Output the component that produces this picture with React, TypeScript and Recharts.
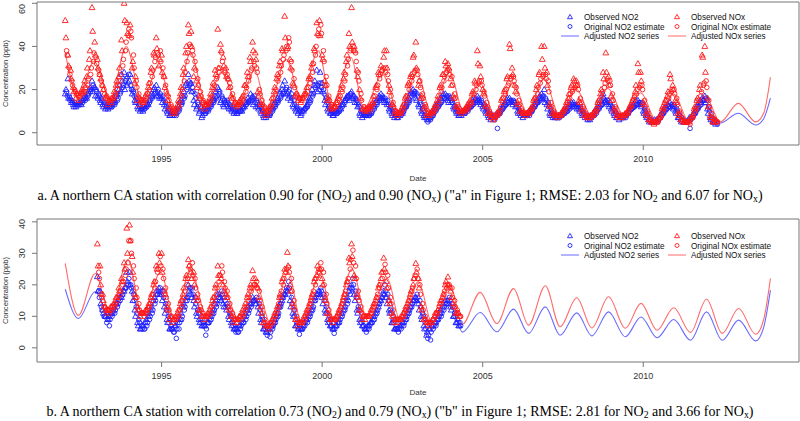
import React from 'react';
import { ComposedChart, Scatter, Line, XAxis, YAxis, ReferenceArea, Legend } from 'recharts';

// ---------- shared ----------
const X_DOMAIN: [number, number] = [1991.12, 2014.85];
const X_TICKS = [1995, 2000, 2005, 2010];
const A_Y_TICKS = [0, 10, 20, 30, 40, 50, 60];
const B_Y_TICKS = [0, 10, 20, 30, 40];
const A_Y_DOMAIN: [number, number] = [-5.7, 60.6];
const B_Y_DOMAIN: [number, number] = [-4.5, 40.9];

const BLUE = '#2020ff';
const RED = '#ff1a1a';
const BLUE_LINE = '#6a6aff';
const RED_LINE = '#ff6a6a';

// ---------- panel a: monthly samples starting Jan 1992 ----------
const A_START = 1992;
const A_NOX_EST = [
  38, 30, 24, 20, 18, 17, 18, 19, 22, 27, 33, 35,
  29, 24, 20, 17, 15, 15, 17, 20, 24, 31, 38, 45,
  47, 36, 24, 18, 15, 14, 16, 20, 26, 33, 37, 38,
  30, 22, 17, 13, 11, 10, 12, 17, 24, 33, 41, 38,
  33, 25, 19, 15, 13, 13, 15, 20, 25, 28, 37, 29,
  27, 23, 18, 14, 13, 13, 15, 19, 24, 29, 33, 30,
  20, 15, 12, 10, 11, 14, 18, 24, 28, 34, 38, 44,
  33, 25, 18, 16, 16, 17, 19, 23, 28, 36, 45, 50,
  38, 26, 17, 13, 12, 13, 15, 19, 24, 31, 38, 40,
  37, 28, 18, 12, 11, 11, 12, 15, 20, 25, 29, 30,
  27, 20, 14, 10, 9, 9, 11, 15, 20, 24, 28, 29,
  24, 18, 13, 10, 9, 9, 11, 14, 19, 24, 28, 29,
  26, 18, 13, 11, 10, 10, 11, 13, 16, 20, 23, 24,
  19, 14, 10, 8, 7, 8, 10, 14, 18, 22, 25, 26,
  21, 15, 11, 9, 9, 9, 11, 14, 18, 23, 26, 27,
  24, 14, 10, 8, 8, 8, 10, 13, 16, 19, 21, 22,
  16, 12, 9, 8, 7, 8, 10, 13, 17, 21, 25, 24,
  18, 12, 9, 8, 8, 8, 10, 12, 15, 18, 21, 22,
  15, 10, 7, 5, 5, 5, 7, 10, 13, 16, 19, 20,
  16, 10, 7, 5, 5, 4, 7, 10, 13, 17, 22, 24,
  15, 9, 6, 5,
];
const A_NOX_EST2 = [
  36, 27, 22, 19, 17, 18, 19, 21, 25, 30, 37, 32,
  27, 22, 18, 16, 15, 16, 18, 22, 27, 34, 42, 48,
  44, 30, 21, 16, 14, 15, 18, 23, 29, 35, 36, 33,
  26, 19, 15, 12, 10, 11, 14, 20, 28, 37, 40, 36,
  29, 22, 17, 14, 13, 14, 17, 22, 26, 30, 33, 28,
  25, 21, 16, 14, 13, 14, 17, 21, 26, 30, 31, 28,
  18, 13, 11, 10, 12, 16, 20, 26, 31, 36, 40, 42,
  29, 21, 17, 16, 16, 18, 21, 25, 32, 40, 48, 46,
  33, 22, 15, 13, 12, 14, 17, 21, 27, 34, 39, 38,
  33, 24, 15, 12, 11, 12, 13, 17, 22, 27, 30, 28,
  24, 17, 12, 10, 9, 10, 13, 17, 22, 26, 29, 27,
  21, 16, 12, 9, 9, 10, 12, 16, 21, 26, 29, 27,
  22, 16, 12, 10, 10, 11, 12, 14, 18, 22, 24, 22,
  17, 12, 9, 8, 7, 9, 12, 16, 20, 23, 26, 24,
  18, 13, 10, 9, 9, 10, 12, 16, 21, 25, 27, 25,
  19, 12, 9, 8, 8, 9, 11, 14, 18, 20, 22, 20,
  14, 11, 8, 7, 8, 9, 11, 15, 19, 23, 24, 22,
  15, 11, 8, 8, 8, 9, 11, 13, 17, 20, 22, 20,
  12, 9, 6, 5, 5, 6, 8, 11, 15, 18, 20, 18,
  13, 9, 6, 5, 5, 6, 8, 11, 15, 19, 23, 21,
  12, 7, 6, 5,
];
const A_NOX_OBS = [
  52, 36, 29, 21, 16, 15, 19, 22, 26, 34, 58, 42,
  34, 27, 22, 16, 13, 14, 16, 22, 26, 43, 60, 51,
  45, 30, 23, 15, 13, 15, 17, 21, 28, 37, 44, 31,
  36, 26, 18, 12, 9, 9, 13, 18, 27, 37, 50, 47,
  26, 24, 17, 12, 11, 13, 16, 21, 29, 48, 41, 35,
  30, 25, 17, 13, 12, 14, 16, 22, 28, 35, 42, 37,
  19, 14, 10, 8, 10, 13, 19, 25, 31, 39, 54, 39,
  34, 23, 17, 15, 14, 16, 18, 25, 30, 39, 51, 52,
  36, 24, 15, 11, 11, 12, 16, 20, 25, 33, 46, 58,
  40, 29, 20, 11, 10, 10, 11, 14, 21, 28, 31, 35,
  38, 22, 13, 9, 8, 9, 12, 16, 22, 26, 35, 42,
  22, 16, 11, 8, 8, 10, 12, 15, 21, 27, 33, 32,
  25, 17, 12, 10, 9, 10, 12, 14, 18, 24, 38, 31,
  20, 13, 9, 7, 6, 8, 9, 15, 19, 25, 41, 30,
  22, 14, 10, 9, 8, 9, 11, 15, 20, 27, 40, 40,
  28, 13, 9, 8, 7, 8, 10, 12, 16, 21, 25, 24,
  15, 11, 8, 7, 7, 8, 10, 14, 18, 28, 37, 26,
  17, 11, 8, 7, 7, 8, 9, 12, 15, 19, 32, 28,
  14, 9, 6, 5, 4, 5, 7, 11, 14, 17, 27, 22,
  15, 9, 6, 5, 5, 5, 7, 11, 15, 20, 36, 40,
  16, 8, 5, 6,
];
const A_NOX_OBS2 = [
  44, 31, 25, 19, 18, 17, 20, 24, 30, 38, 47, 36,
  30, 25, 20, 17, 15, 16, 19, 24, 30, 38, 52, 46,
  50, 33, 26, 17, 15, 14, 18, 23, 30, 36, 39, 34,
  28, 21, 15, 11, 10, 11, 15, 21, 30, 40, 46, 40,
  30, 21, 16, 14, 13, 14, 18, 23, 27, 30, 38, 31,
  26, 21, 16, 14, 13, 15, 17, 22, 26, 33, 38, 34,
  17, 13, 10, 9, 12, 16, 21, 27, 33, 38, 44, 40,
  30, 22, 18, 16, 15, 18, 21, 26, 32, 38, 46, 45,
  34, 22, 16, 12, 12, 14, 17, 22, 28, 36, 40, 42,
  38, 26, 16, 11, 11, 12, 13, 17, 22, 27, 29, 38,
  30, 19, 13, 10, 9, 10, 13, 17, 23, 27, 36, 30,
  24, 17, 12, 9, 9, 10, 13, 17, 22, 27, 31, 30,
  22, 16, 12, 10, 10, 11, 13, 15, 19, 23, 32, 26,
  18, 12, 9, 8, 7, 9, 11, 16, 20, 26, 39, 27,
  19, 13, 10, 9, 9, 10, 12, 16, 22, 28, 34, 30,
  22, 12, 9, 8, 8, 9, 11, 14, 18, 22, 24, 22,
  14, 10, 8, 7, 8, 9, 11, 15, 20, 25, 28, 22,
  15, 10, 8, 7, 8, 9, 10, 13, 16, 22, 28, 24,
  13, 8, 6, 5, 5, 6, 8, 12, 15, 19, 25, 20,
  14, 8, 6, 5, 5, 6, 8, 12, 16, 22, 35, 28,
  12, 7, 5, 5,
];
const A_NO2_EST = [
  19, 17, 15, 14, 13, 13, 14, 15, 17, 19, 22, 20,
  18, 16, 14, 13, 12, 12, 13, 15, 18, 21, 24, 23,
  22, 19, 16, 13, 11, 11, 12, 14, 16, 18, 19, 18,
  17, 14, 11, 9, 9, 8, 10, 13, 16, 20, 22, 21,
  18, 14, 12, 10, 9, 10, 12, 14, 16, 18, 17, 15,
  15, 13, 12, 11, 10, 10, 11, 13, 14, 15, 16, 15,
  13, 11, 9, 8, 8, 10, 12, 14, 16, 18, 20, 19,
  18, 15, 12, 11, 10, 11, 12, 14, 17, 21, 22, 23,
  20, 16, 12, 10, 9, 9, 10, 12, 14, 16, 18, 17,
  16, 13, 10, 9, 8, 8, 9, 11, 13, 15, 17, 16,
  15, 12, 10, 8, 8, 8, 10, 12, 14, 17, 19, 18,
  14, 11, 8, 5, 6, 8, 10, 12, 14, 16, 17, 17,
  15, 12, 10, 9, 9, 9, 10, 12, 13, 14, 16, 15,
  13, 11, 9, 7, 6, 2, 9, 11, 13, 14, 15, 15,
  13, 11, 9, 8, 8, 8, 10, 12, 14, 15, 17, 16,
  14, 10, 8, 7, 7, 8, 9, 10, 11, 12, 13, 13,
  12, 10, 8, 7, 7, 8, 9, 11, 13, 14, 15, 14,
  12, 10, 8, 7, 7, 7, 9, 11, 12, 13, 14, 14,
  11, 8, 6, 5, 5, 5, 7, 9, 11, 12, 13, 13,
  11, 8, 6, 5, 5, 2, 7, 9, 11, 13, 15, 16,
  12, 7, 5, 5,
];
const A_NO2_EST2 = [
  17, 15, 14, 13, 13, 14, 15, 16, 18, 20, 21, 19,
  17, 15, 13, 12, 12, 13, 14, 16, 19, 22, 25, 27,
  20, 17, 14, 12, 11, 11, 13, 15, 17, 19, 20, 17,
  15, 12, 10, 9, 8, 9, 11, 14, 17, 21, 23, 19,
  16, 13, 11, 10, 10, 11, 13, 15, 17, 19, 16, 14,
  14, 12, 11, 10, 10, 10, 12, 13, 15, 16, 17, 14,
  12, 10, 8, 8, 9, 11, 13, 15, 17, 19, 21, 20,
  16, 13, 11, 10, 10, 11, 13, 15, 18, 22, 23, 21,
  18, 14, 11, 9, 9, 9, 11, 13, 15, 17, 18, 16,
  15, 12, 9, 8, 8, 8, 10, 12, 14, 16, 16, 15,
  13, 11, 9, 8, 8, 9, 11, 13, 15, 18, 19, 17,
  13, 10, 7, 6, 7, 9, 11, 13, 15, 16, 17, 16,
  14, 11, 9, 9, 9, 10, 11, 12, 14, 15, 15, 14,
  12, 10, 8, 7, 7, 8, 10, 12, 13, 14, 15, 14,
  12, 10, 9, 8, 8, 9, 11, 13, 14, 16, 17, 15,
  12, 9, 8, 7, 7, 8, 9, 10, 12, 13, 13, 12,
  11, 9, 8, 7, 7, 8, 10, 12, 13, 15, 15, 13,
  11, 9, 8, 7, 7, 8, 10, 11, 12, 13, 14, 13,
  10, 7, 6, 5, 5, 6, 8, 10, 11, 12, 13, 12,
  10, 7, 6, 5, 5, 6, 8, 10, 12, 14, 15, 15,
  10, 6, 5, 4,
];
const A_NO2_OBS = [
  18, 25, 16, 13, 12, 13, 13, 16, 16, 20, 24, 21,
  17, 15, 13, 11, 11, 12, 14, 17, 20, 27, 28, 22,
  24, 18, 15, 12, 10, 10, 12, 13, 17, 20, 22, 17,
  16, 13, 10, 8, 8, 9, 11, 14, 17, 22, 27, 23,
  15, 11, 9, 7, 9, 11, 13, 15, 17, 21, 14, 13,
  14, 12, 11, 9, 9, 10, 10, 12, 14, 15, 17, 14,
  12, 10, 8, 7, 8, 11, 13, 15, 18, 20, 24, 18,
  17, 13, 11, 9, 8, 10, 12, 15, 18, 22, 29, 20,
  23, 15, 11, 9, 8, 9, 10, 11, 13, 16, 17, 19,
  17, 14, 9, 7, 8, 8, 9, 12, 14, 16, 18, 15,
  14, 11, 9, 7, 7, 8, 9, 12, 15, 18, 20, 16,
  13, 10, 8, 7, 7, 8, 11, 13, 14, 17, 18, 15,
  16, 12, 10, 8, 8, 9, 11, 12, 14, 15, 17, 14,
  12, 10, 8, 6, 7, 8, 9, 11, 13, 15, 16, 14,
  14, 10, 9, 7, 8, 9, 10, 12, 14, 16, 18, 20,
  13, 9, 8, 7, 7, 8, 9, 10, 12, 13, 14, 12,
  11, 9, 8, 7, 6, 8, 10, 12, 13, 18, 15, 13,
  11, 9, 7, 6, 7, 8, 9, 11, 12, 13, 15, 13,
  10, 8, 6, 5, 5, 6, 7, 9, 11, 13, 14, 12,
  10, 7, 6, 5, 5, 6, 7, 9, 12, 14, 16, 17,
  11, 7, 5, 4,
];
const A_NO2_OBS2 = [
  20, 16, 14, 12, 13, 14, 15, 17, 18, 21, 19, 17,
  16, 14, 12, 12, 13, 13, 15, 18, 22, 24, 20, 26,
  27, 20, 14, 11, 11, 12, 13, 15, 18, 21, 17, 16,
  14, 11, 9, 8, 9, 10, 12, 15, 19, 23, 24, 19,
  13, 12, 10, 8, 10, 12, 14, 16, 19, 20, 15, 12,
  13, 11, 10, 10, 9, 11, 12, 14, 16, 18, 13, 12,
  11, 9, 7, 8, 9, 12, 14, 16, 19, 22, 18, 16,
  15, 12, 10, 10, 9, 11, 13, 16, 20, 24, 19, 28,
  19, 13, 10, 9, 8, 10, 11, 13, 15, 17, 15, 16,
  14, 12, 8, 8, 8, 9, 10, 13, 15, 17, 16, 14,
  13, 10, 8, 8, 7, 9, 10, 13, 16, 19, 18, 15,
  12, 9, 7, 6, 8, 9, 12, 14, 16, 18, 16, 14,
  14, 11, 9, 8, 9, 10, 12, 13, 15, 16, 15, 13,
  11, 9, 7, 7, 8, 9, 10, 12, 14, 16, 14, 13,
  12, 9, 8, 8, 8, 10, 11, 13, 15, 17, 16, 14,
  11, 8, 7, 7, 8, 8, 10, 11, 13, 14, 12, 11,
  10, 8, 7, 6, 7, 9, 11, 13, 15, 16, 14, 12,
  10, 8, 7, 7, 7, 8, 10, 12, 13, 15, 13, 12,
  9, 7, 5, 5, 6, 6, 8, 10, 12, 13, 12, 11,
  9, 7, 5, 5, 5, 7, 8, 10, 13, 15, 15, 14,
  9, 6, 5, 5,
];
// adjusted series knots (peaks / troughs)
const A_LINE_X = [
  1992.0, 1992.4, 1992.9, 1993.4, 1993.9, 1994.4, 1994.9, 1995.4, 1995.9, 1996.4,
  1996.85, 1997.4, 1997.9, 1998.3, 1998.88, 1999.35, 1999.88, 2000.3, 2000.9, 2001.3,
  2001.88, 2002.4, 2002.95, 2003.4, 2003.97, 2004.4, 2004.92, 2005.4, 2005.95, 2006.4,
  2006.9, 2007.4, 2007.9, 2008.4, 2008.9, 2009.4, 2009.92, 2010.43, 2010.95, 2011.43,
  2011.93, 2012.4, 2012.96, 2013.5, 2013.75, 2013.96,
];
const A_LINE_NOX = [
  37, 17, 33, 15, 40, 14, 31, 10, 37, 13,
  28, 13, 29, 10, 34, 16, 38, 13, 35, 11,
  27, 9, 28, 9, 28, 10, 23, 7.5, 23, 9,
  25, 8, 20.5, 7.5, 20.5, 8, 18.5, 5, 18, 5,
  17, 5, 13.6, 5, 9, 25.7,
];
const A_LINE_NO2 = [
  18, 13, 21, 12, 23, 11, 18, 9, 20, 11,
  17, 11, 16, 9, 18, 11, 21, 10, 17, 9,
  16, 8, 18, 8, 16, 9, 14, 7, 14, 8,
  15, 8, 13, 7, 14, 7, 13, 5, 12, 5.5,
  13, 4.5, 9, 3.6, 6.5, 16,
];

// ---------- panel b: monthly samples starting Jan 1993 ----------
const B_START = 1993;
const B_NOX_EST = [
  24, 17, 13, 11, 11, 12, 13, 15, 17, 20, 23, 27,
  34, 26, 19, 14, 11, 10, 11, 13, 15, 19, 24, 29,
  25, 19, 14, 10, 9, 9, 10, 13, 16, 20, 26, 27,
  22, 17, 13, 11, 10, 10, 11, 14, 17, 21, 26, 21,
  18, 14, 11, 9, 9, 9, 10, 12, 15, 18, 20, 21,
  18, 13, 9, 7, 7, 8, 10, 13, 16, 20, 24, 25.6,
  22, 15, 10, 8, 8, 9, 11, 14, 17, 20, 24, 27,
  24, 17, 12, 9, 9, 9, 11, 14, 17, 21, 25, 31,
  26, 18, 13, 10, 10, 10, 11, 13, 16, 19, 22, 26.5,
  23, 16, 12, 9, 9, 9, 10, 12, 15, 18, 22, 25,
  20, 14, 10, 8, 8, 9, 10, 12, 14, 17, 19, 20,
  19, 15, 12, 10,
];
const B_NOX_EST2 = [
  22, 16, 13, 12, 12, 13, 14, 16, 18, 21, 25, 34,
  30, 22, 16, 12, 11, 11, 12, 14, 17, 21, 25, 26,
  22, 16, 12, 10, 9, 10, 12, 15, 18, 22, 25, 23,
  19, 15, 12, 10, 10, 11, 13, 16, 19, 23, 24, 19,
  16, 12, 10, 9, 9, 10, 11, 13, 16, 19, 20, 19,
  15, 11, 8, 7, 8, 9, 11, 14, 18, 22, 25, 24,
  18, 12, 9, 8, 8, 10, 12, 15, 18, 22, 25, 25,
  20, 14, 10, 9, 9, 10, 12, 15, 18, 22, 28, 27,
  22, 15, 11, 10, 10, 10, 12, 14, 17, 20, 24, 24,
  19, 14, 10, 9, 9, 10, 11, 13, 16, 19, 23, 22,
  17, 12, 9, 8, 8, 9, 11, 13, 15, 18, 20, 19,
  16, 13, 11, 10,
];
const B_NOX_OBS = [
  33, 26, 17, 13, 12, 13, 14, 16, 19, 22, 27, 38,
  39, 29, 17, 13, 10, 11, 12, 13, 16, 20, 26, 30,
  30, 18, 13, 9, 8, 9, 11, 14, 17, 22, 28, 24,
  24, 16, 12, 10, 9, 10, 12, 15, 19, 26, 23, 20,
  17, 13, 10, 8, 8, 10, 11, 13, 16, 19, 24.5, 22,
  19, 13, 8, 7, 6, 8, 10, 12, 16, 21, 25, 30.3,
  20, 14, 9, 7, 8, 9, 11, 13, 16, 21, 23, 24,
  22, 16, 11, 9, 8, 9, 11, 13, 16, 20, 28.5, 33,
  23, 17, 12, 9, 9, 10, 11, 13, 15, 19, 22, 28.5,
  21, 15, 11, 8, 8, 9, 10, 12, 14, 17, 20, 26.8,
  22, 13, 9, 8, 7, 8, 10, 11, 14, 16, 20, 22.5,
  18, 14, 11, 11,
];
const B_NOX_OBS2 = [
  26, 20, 15, 12, 12, 13, 14, 16, 18, 21, 25, 30,
  34, 24, 16, 12, 11, 11, 12, 14, 17, 21, 25, 27,
  24, 17, 12, 10, 9, 10, 12, 15, 19, 23, 26, 22,
  20, 15, 12, 10, 10, 11, 13, 16, 20, 23, 22, 18,
  16, 12, 10, 9, 9, 10, 12, 14, 17, 20, 22, 20,
  16, 11, 8, 7, 7, 9, 11, 13, 17, 22, 24, 26,
  18, 13, 9, 8, 8, 10, 12, 14, 17, 22, 26, 25,
  20, 15, 11, 9, 9, 10, 12, 14, 17, 21, 27, 29,
  22, 16, 12, 10, 10, 10, 12, 14, 16, 20, 24, 25,
  19, 14, 10, 9, 9, 9, 11, 13, 15, 18, 22, 24,
  19, 12, 9, 8, 8, 9, 11, 12, 15, 17, 21, 20,
  16, 13, 11, 10,
];
const B_NO2_EST = [
  18, 13, 10, 8, 7, 10, 11, 13, 15, 17, 19, 20,
  20, 17, 13, 9, 7, 6, 7, 9, 11, 14, 17, 19,
  18, 14, 10, 7, 5, 3, 6, 9, 12, 15, 19, 19,
  16, 12, 9, 8, 4, 8, 9, 11, 13, 16, 18, 16,
  14, 11, 8, 6, 5, 6, 8, 9, 11, 13, 15, 16,
  14, 10, 7, 4, 3.5, 6, 8, 10, 13, 16, 18, 21,
  16, 12, 8, 4.3, 6, 7, 8, 10, 12, 15, 17, 19,
  17, 13, 9, 7, 4.6, 7, 8, 10, 12, 14, 17, 22,
  18, 13, 9, 7, 5, 6, 8, 9, 11, 14, 16, 20,
  17, 12, 9, 6, 5, 6, 7, 9, 11, 13, 15, 17,
  15, 11, 8, 3, 2.5, 6, 7, 9, 10, 12, 14, 16,
  14, 11, 9, 8,
];
const B_NO2_EST2 = [
  16, 12, 10, 9, 9, 11, 12, 14, 16, 18, 19, 22,
  19, 15, 11, 8, 6, 6, 8, 10, 12, 15, 18, 18,
  16, 12, 8, 6, 5, 6, 8, 10, 13, 16, 19, 17,
  14, 11, 8, 7, 6, 8, 10, 12, 14, 17, 17, 15,
  13, 10, 7, 5, 5, 7, 8, 10, 12, 14, 15, 15,
  12, 9, 6, 5, 5, 7, 9, 11, 14, 17, 19, 19,
  14, 10, 7, 6, 6, 8, 9, 11, 13, 16, 18, 18,
  15, 11, 8, 6, 6, 8, 9, 11, 13, 15, 19, 20,
  16, 12, 8, 6, 6, 7, 8, 10, 12, 15, 17, 18,
  15, 11, 8, 6, 6, 7, 8, 10, 12, 14, 16, 16,
  13, 10, 6, 4, 5, 7, 8, 10, 11, 13, 15, 15,
  13, 10, 8, 7,
];
const B_NO2_OBS = [
  22.6, 18, 12, 10, 9, 11, 12, 14, 15, 16, 18, 24,
  24, 18, 12, 8, 6, 7, 8, 10, 12, 15, 18, 19,
  17, 13, 9, 6, 6, 7, 8, 9, 13, 15, 20, 17,
  15, 11, 9, 7, 7, 8, 9, 11, 14, 17, 16, 14,
  13, 10, 8, 6, 6, 7, 8, 10, 12, 14, 16, 15,
  13, 9, 6, 5, 6, 7, 8, 10, 13, 15, 17, 18,
  15, 11, 7, 6, 6, 7, 9, 10, 12, 15, 17, 18,
  16, 12, 9, 7, 6, 7, 8, 10, 12, 15, 18, 20,
  17, 12, 9, 7, 6, 7, 8, 9, 11, 13, 15, 18,
  16, 12, 8, 6, 6, 7, 8, 9, 11, 13, 15, 16,
  14, 10, 7, 4, 6, 7, 8, 9, 11, 13, 15, 15,
  13, 10, 8, 7,
];
const B_NO2_OBS2 = [
  18, 14, 11, 10, 10, 11, 13, 14, 16, 17, 19, 21,
  20, 15, 10, 7, 6, 7, 9, 11, 13, 16, 17, 17,
  15, 11, 8, 6, 6, 7, 9, 11, 14, 16, 18, 16,
  13, 10, 8, 7, 7, 8, 10, 12, 15, 16, 15, 13,
  12, 9, 7, 6, 6, 7, 9, 11, 13, 14, 15, 14,
  11, 8, 6, 5, 6, 7, 9, 11, 14, 16, 17, 19,
  13, 10, 7, 6, 6, 8, 9, 11, 13, 16, 17, 17,
  14, 11, 8, 7, 6, 7, 9, 11, 13, 16, 19, 19,
  15, 11, 8, 7, 6, 7, 8, 10, 12, 14, 16, 17,
  14, 11, 8, 6, 6, 7, 8, 10, 12, 14, 15, 15,
  12, 9, 6, 5, 6, 7, 8, 10, 12, 14, 14, 14,
  12, 10, 8, 7,
];
const B_LINE_X = [
  1992.0, 1992.41, 1992.93, 1993.4, 1993.95, 1994.4, 1994.97, 1995.4, 1995.9, 1996.4,
  1996.85, 1997.4, 1997.95, 1998.4, 1998.95, 1999.35, 1999.93, 2000.38, 2000.93, 2001.38,
  2002.03, 2002.42, 2003.0, 2003.42, 2003.98, 2004.37, 2004.92, 2005.44, 2005.96, 2006.43,
  2006.95, 2007.41, 2007.93, 2008.4, 2008.92, 2009.44, 2009.93, 2010.43, 2010.95, 2011.47,
  2011.97, 2012.46, 2012.97, 2013.5, 2013.75, 2013.96,
];
const B_LINE_NOX = [
  26.8, 10.3, 23.6, 10.5, 28, 10.5, 24, 9, 25, 10,
  21, 9, 20, 7.5, 24, 8, 23, 9, 25, 10,
  22, 9, 21, 8, 20, 7.5, 17.6, 7.7, 18.8, 7.2,
  19.7, 6.7, 15.9, 6.3, 16.2, 6.2, 14.1, 5.6, 12.7, 4.9,
  15.4, 4.6, 12.5, 4.3, 9, 22,
];
const B_LINE_NO2 = [
  18.6, 9.3, 17.8, 9.5, 21, 8, 17, 7, 18, 8.5,
  15, 6.5, 15, 5.5, 18, 6, 17, 7, 18, 7,
  17, 7, 15, 6, 14, 5, 11.2, 5.1, 12.3, 4.6,
  13, 4, 11.1, 3.8, 11.4, 3.5, 9.8, 3.2, 9.0, 2.4,
  11.4, 2.4, 8.8, 2.2, 6.5, 18.3,
];

const LEGEND_ITEMS = [
  { label: 'Observed NO2', color: BLUE, kind: 'tri', col: 0, row: 0 },
  { label: 'Original NO2 estimate', color: BLUE, kind: 'circ', col: 0, row: 1 },
  { label: 'Adjusted NO2 series', color: BLUE_LINE, kind: 'line', col: 0, row: 2 },
  { label: 'Observed NOx', color: RED, kind: 'tri', col: 1, row: 0 },
  { label: 'Original NOx estimate', color: RED, kind: 'circ', col: 1, row: 1 },
  { label: 'Adjusted NOx series', color: RED_LINE, kind: 'line', col: 1, row: 2 },
];

// ---------- helpers ----------
const monthly = (start: number, vals: number[], shift: number) =>
  vals.map((y, i) => ({ x: start + (i + shift) / 12, y }));
const knots = (xs: number[], ys: number[]) => xs.map((x, i) => ({ x, y: ys[i] }));

const SANS = '"Liberation Sans", Arial, Helvetica, sans-serif';

const triShape = (color: string) => (p: any) => {
  const { cx, cy } = p;
  if (cx == null || cy == null) return <g />;
  return (
    <polygon
      points={`${cx},${cy - 3.1} ${cx - 2.9},${cy + 2} ${cx + 2.9},${cy + 2}`}
      fill="none"
      stroke={color}
      strokeWidth={0.9}
    />
  );
};
const circShape = (color: string) => (p: any) => {
  const { cx, cy } = p;
  if (cx == null || cy == null) return <g />;
  return <circle cx={cx} cy={cy} r={2.3} fill="none" stroke={color} strokeWidth={0.9} />;
};

const YTick = (p: any) => {
  const { x, y, payload } = p;
  return (
    <text
      transform={`translate(${x - 5},${y}) rotate(-90)`}
      textAnchor="middle"
      fontSize={9}
      fill="#333"
      fontFamily={SANS}
    >
      {payload.value}
    </text>
  );
};

const LegendBox = () => (
  <svg width={240} height={34} style={{ display: 'block', overflow: 'visible' }}>
    {LEGEND_ITEMS.map((it, i) => {
      const ox = it.col * 107;
      const oy = 6 + it.row * 9.5;
      let sym: any = null;
      if (it.kind === 'tri')
        sym = (
          <polygon
            points={`${ox + 10},${oy - 2.6} ${ox + 7.5},${oy + 1.7} ${ox + 12.5},${oy + 1.7}`}
            fill="none"
            stroke={it.color}
            strokeWidth={0.9}
          />
        );
      else if (it.kind === 'circ')
        sym = <circle cx={ox + 10} cy={oy} r={2} fill="none" stroke={it.color} strokeWidth={0.9} />;
      else sym = <line x1={ox + 1} x2={ox + 19} y1={oy} y2={oy} stroke={it.color} strokeWidth={1} />;
      return (
        <g key={i}>
          {sym}
          <text x={ox + 24} y={oy + 3} fontSize={8.2} fontFamily={SANS} fill="#111">
            {it.label}
          </text>
        </g>
      );
    })}
  </svg>
);

type PanelProps = {
  start: number;
  noxEst: number[];
  noxEst2: number[];
  noxObs: number[];
  noxObs2: number[];
  no2Est: number[];
  no2Est2: number[];
  no2Obs: number[];
  no2Obs2: number[];
  lineX: number[];
  lineNox: number[];
  lineNo2: number[];
  yDomain: [number, number];
  yTicks: number[];
  top: number;
  axisH: number;
  dateOffset: number;
  legendTop: number;
};

const Panel = (pp: PanelProps) => (
  <ComposedChart
    width={800}
    height={185}
    margin={{ top: pp.top, right: 1, bottom: 0, left: 0 }}
  >
    <XAxis
      type="number"
      dataKey="x"
      domain={X_DOMAIN}
      allowDataOverflow
      ticks={X_TICKS}
      axisLine={false}
      tickLine={{ stroke: '#777' }}
      tickSize={5}
      tickMargin={6}
      height={pp.axisH}
      tick={{ fontSize: 9, fill: '#333', fontFamily: SANS }}
      label={{ value: 'Date', position: 'insideBottom', offset: pp.dateOffset, fontSize: 8, fill: '#333', fontFamily: SANS }}
    />
    <YAxis
      type="number"
      dataKey="y"
      domain={pp.yDomain}
      allowDataOverflow
      ticks={pp.yTicks}
      width={37}
      axisLine={false}
      tickLine={{ stroke: '#777' }}
      tickSize={5}
      tick={<YTick />}
      label={{
        value: 'Concentration (ppb)',
        angle: -90,
        position: 'insideLeft',
        offset: 5.5,
        fontSize: 7.6,
        fill: '#333',
        fontFamily: SANS,
        style: { textAnchor: 'middle' },
      }}
    />
    <ReferenceArea
      x1={X_DOMAIN[0]}
      x2={X_DOMAIN[1]}
      y1={pp.yDomain[0]}
      y2={pp.yDomain[1]}
      fill="none"
      stroke="#777"
      strokeWidth={1}
      ifOverflow="visible"
    />
    <Scatter data={monthly(pp.start, pp.no2Obs, 0)} shape={triShape(BLUE)} isAnimationActive={false} />
    <Scatter data={monthly(pp.start, pp.no2Obs2, 0.25)} shape={triShape(BLUE)} isAnimationActive={false} />
    <Scatter data={monthly(pp.start, pp.no2Est, 0.5)} shape={circShape(BLUE)} isAnimationActive={false} />
    <Scatter data={monthly(pp.start, pp.no2Est2, 0.75)} shape={circShape(BLUE)} isAnimationActive={false} />
    <Scatter data={monthly(pp.start, pp.noxObs, 0)} shape={triShape(RED)} isAnimationActive={false} />
    <Scatter data={monthly(pp.start, pp.noxObs2, 0.25)} shape={triShape(RED)} isAnimationActive={false} />
    <Scatter data={monthly(pp.start, pp.noxEst, 0.5)} shape={circShape(RED)} isAnimationActive={false} />
    <Scatter data={monthly(pp.start, pp.noxEst2, 0.75)} shape={circShape(RED)} isAnimationActive={false} />
    <Line
      data={knots(pp.lineX, pp.lineNo2)}
      dataKey="y"
      type="monotone"
      stroke={BLUE_LINE}
      strokeWidth={1.1}
      dot={false}
      isAnimationActive={false}
    />
    <Line
      data={knots(pp.lineX, pp.lineNox)}
      dataKey="y"
      type="monotone"
      stroke={RED_LINE}
      strokeWidth={1.1}
      dot={false}
      isAnimationActive={false}
    />
    <Legend
      layout="vertical"
      align="center"
      verticalAlign="middle"
      content={() => <LegendBox />}
      wrapperStyle={{ position: 'absolute', left: 560, top: pp.legendTop, width: 240, height: 34 }}
    />
  </ComposedChart>
);

const captionStyle: React.CSSProperties = {
  position: 'absolute',
  left: 0,
  width: 800,
  textAlign: 'center',
  fontFamily: '"Liberation Serif", "Times New Roman", serif',
  fontSize: 14,
  lineHeight: '18px',
  color: '#000',
  whiteSpace: 'nowrap',
};
const sub: React.CSSProperties = { fontSize: '70%', verticalAlign: '-0.25em', lineHeight: 0 };

function caption(top: number): React.CSSProperties {
  return { ...captionStyle, top };
}

export default function App() {
  return (
    <div style={{ position: 'absolute', left: 0, top: 0, width: 800, height: 421, background: '#fff', overflow: 'hidden' }}>
      <div style={{ position: 'absolute', left: 0, top: 0 }}>
        <Panel
          start={A_START}
          noxEst={A_NOX_EST}
          noxEst2={A_NOX_EST2}
          noxObs={A_NOX_OBS}
          noxObs2={A_NOX_OBS2}
          no2Est={A_NO2_EST}
          no2Est2={A_NO2_EST2}
          no2Obs={A_NO2_OBS}
          no2Obs2={A_NO2_OBS2}
          lineX={A_LINE_X}
          lineNox={A_LINE_NOX}
          lineNo2={A_LINE_NO2}
          yDomain={A_Y_DOMAIN}
          yTicks={A_Y_TICKS}
          top={2}
          axisH={40}
          dateOffset={4}
          legendTop={11}
        />
      </div>
      <div style={caption(187)}>
        a. A northern CA station with correlation 0.90 for (NO<span style={sub}>2</span>) and 0.90 (NO<span style={sub}>x</span>) ("a" in Figure 1; RMSE: 2.03 for NO<span style={sub}>2</span> and 6.07 for NO<span style={sub}>x</span>)
      </div>
      <div style={{ position: 'absolute', left: 0, top: 215 }}>
        <Panel
          start={B_START}
          noxEst={B_NOX_EST}
          noxEst2={B_NOX_EST2}
          noxObs={B_NOX_OBS}
          noxObs2={B_NOX_OBS2}
          no2Est={B_NO2_EST}
          no2Est2={B_NO2_EST2}
          no2Obs={B_NO2_OBS}
          no2Obs2={B_NO2_OBS2}
          lineX={B_LINE_X}
          lineNox={B_LINE_NOX}
          lineNo2={B_LINE_NO2}
          yDomain={B_Y_DOMAIN}
          yTicks={B_Y_TICKS}
          top={4}
          axisH={38}
          dateOffset={5}
          legendTop={15}
        />
      </div>
      <div style={caption(403)}>
        b. A northern CA station with correlation 0.73 (NO<span style={sub}>2</span>) and 0.79 (NO<span style={sub}>x</span>) ("b" in Figure 1; RMSE: 2.81 for NO<span style={sub}>2</span> and 3.66 for NO<span style={sub}>x</span>)
      </div>
    </div>
  );
}
